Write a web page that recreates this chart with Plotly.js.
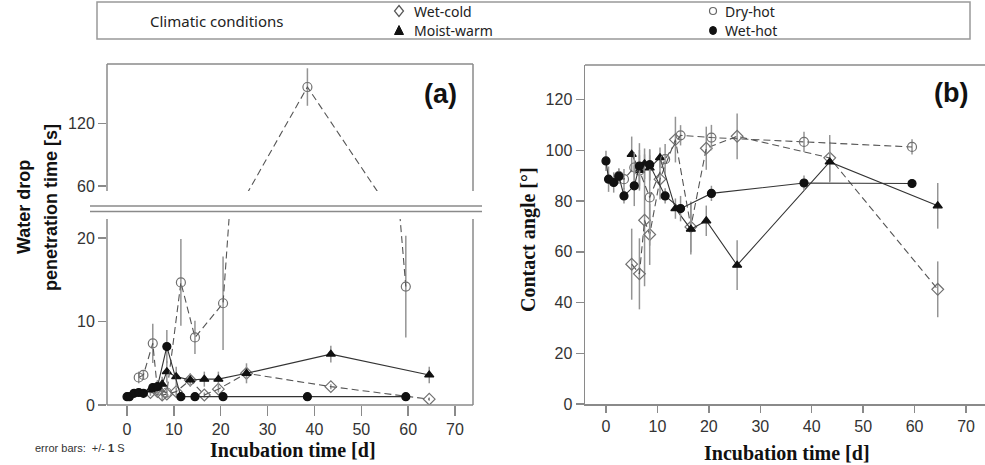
<!DOCTYPE html>
<html><head><meta charset="utf-8">
<script src="https://cdn.plot.ly/plotly-3.0.1.min.js"></script>
<style>html,body{margin:0;padding:0;background:#fff}#chart{width:985px;height:465px}</style>
</head><body><div id="chart"></div>
<script>
// ---- data ----
const conditions = ['Wet-cold', 'Moist-warm', 'Dry-hot', 'Wet-hot'];
const daysWetHot = [0, 0.5, 1.5, 2.5, 3.5, 5.5, 6.5, 8.5, 11.5, 14.5, 20.5, 38.5, 59.5];
const daysDryHot = [2.5, 3.5, 5.5, 6.5, 8.5, 11.5, 14.5, 20.5, 38.5, 59.5];
const daysCold = [5, 6.5, 7.5, 8.5, 10.5, 13.5, 16.5, 19.5, 25.5, 43.5, 64.5];

// (a) water drop penetration time [s]
const wdptWetCold = [1.5, 1.6, 1.2, 1.3, 1.6, 3.0, 1.2, 1.9, 3.8, 2.2, 0.7];
const wdptWetColdSD = [0.4, 0.5, 0.6, 0.4, 0.5, 0.4, 0.3, 0.4, 0.5, 0.3, 0.2];
const wdptMoistWarm = [1.8, 2.2, 2.5, 4.0, 3.4, 3.0, 3.1, 3.1, 3.8, 6.1, 3.6];
const wdptMoistWarmSD = [0.5, 0.8, 0.9, 1.3, 1.2, 0.8, 0.9, 0.9, 1.2, 1.0, 1.0];
const wdptDryHot = [3.3, 3.6, 7.4, 1.8, 1.5, 14.7, 8.1, 12.2, 155, 14.2];
const wdptDryHotSD = [0.7, 0.5, 2.35, 0.8, 0.6, 5.2, 2.0, 5.6, 18, 6.1];
const wdptWetHot = [1.0, 1.0, 1.4, 1.5, 1.4, 2.1, 2.2, 7.0, 1.0, 1.0, 1.0, 1.0, 1.0];
const wdptWetHotSD = [0.1, 0.1, 0.2, 0.2, 0.2, 0.5, 0.6, 2.0, 0.1, 0.1, 0.1, 0.1, 0.1];

// (b) contact angle [deg]
const caWetCold = [55.1, 51.3, 72.4, 66.8, 88.6, 104.2, 69.8, 100.8, 105.5, 97.0, 45.2];
const caWetColdSD = [14, 14, 26, 12, 8, 9, 10, 8.5, 9, 9, 11];
const caMoistWarm = [98.4, 92.1, 94.7, 93.0, 97.1, 77.0, 68.9, 72.2, 54.7, 95.4, 78.1];
const caMoistWarmSD = [7, 8, 6, 5, 4, 4, 10, 6, 9.8, 8, 9];
const caDryHot = [89.8, 88.6, 93.2, 92.0, 81.4, 96.5, 105.9, 105.0, 103.3, 101.3];
const caDryHotSD = [3, 4, 6, 6, 19, 6, 4, 5, 4, 3];
const caWetHot = [95.8, 88.6, 87.3, 89.8, 82.0, 86.0, 93.8, 94.3, 82.0, 77.0, 83.0, 87.1, 86.9];
const caWetHotSD = [4, 5, 4, 3, 3, 8, 9, 6, 3, 5, 3, 3, 0.5];

const xTicks = [0, 10, 20, 30, 40, 50, 60, 70];
const yTicksLow = [0, 10, 20];
const yTicksHigh = [60, 120];
const yTicksCA = [0, 20, 40, 60, 80, 100, 120];

// ---- styling ----
const W = 985, H = 465;
const px = v => v / W, py = v => 1 - v / H;
const AX = '#8a8a8a';
const style = {
  'Wet-cold':   {symbol: 'diamond-open', mcolor: '#707070', size: 9, lcolor: '#555', dash: '7px,4px'},
  'Moist-warm': {symbol: 'triangle-up',  mcolor: '#111',    size: 8, lcolor: '#333', dash: 'solid'},
  'Dry-hot':    {symbol: 'circle-open',  mcolor: '#707070', size: 9, lcolor: '#555', dash: '7px,4px'},
  'Wet-hot':    {symbol: 'circle',       mcolor: '#111',    size: 8, lcolor: '#333', dash: 'solid'}
};
function tr(name, x, y, sd, xa, ya) {
  const s = style[name];
  return {
    type: 'scatter', mode: 'lines+markers', name: name, x: x, y: y,
    xaxis: xa, yaxis: ya, showlegend: false, cliponaxis: true,
    line: {color: s.lcolor, width: 1.1, dash: s.dash},
    marker: {symbol: s.symbol, color: s.mcolor, size: s.size, line: {color: s.mcolor, width: 1.2}},
    error_y: {type: 'data', array: sd, visible: true, color: '#949494', thickness: 1.5, width: 0}
  };
}
const data = [
  tr('Wet-cold', daysCold, wdptWetCold, wdptWetColdSD, 'x', 'y'),
  tr('Moist-warm', daysCold, wdptMoistWarm, wdptMoistWarmSD, 'x', 'y'),
  tr('Dry-hot', daysDryHot, wdptDryHot, wdptDryHotSD, 'x', 'y'),
  tr('Wet-hot', daysWetHot, wdptWetHot, wdptWetHotSD, 'x', 'y'),
  tr('Dry-hot', daysDryHot, wdptDryHot, wdptDryHotSD, 'x2', 'y2'),
  tr('Wet-cold', daysCold, caWetCold, caWetColdSD, 'x3', 'y3'),
  tr('Moist-warm', daysCold, caMoistWarm, caMoistWarmSD, 'x3', 'y3'),
  tr('Dry-hot', daysDryHot, caDryHot, caDryHotSD, 'x3', 'y3'),
  tr('Wet-hot', daysWetHot, caWetHot, caWetHotSD, 'x3', 'y3')
];

const tickFont = {family: 'Liberation Sans, Arial, sans-serif', size: 16, color: '#333'};
const baseAx = {showgrid: false, zeroline: false, ticks: 'outside', tickcolor: AX, tickwidth: 1.5, tickfont: tickFont, fixedrange: true};

const aDom = [px(107), px(473)];
const aRange = [-4.27, 73.84];

function line(x0, y0, x1, y1) {
  return {type: 'line', xref: 'paper', yref: 'paper', x0: px(x0), y0: py(y0), x1: px(x1), y1: py(y1), line: {color: AX, width: 1.5}};
}
const shapes = [
  // panel (a) lower frame
  line(107, 219, 107, 405), line(473, 219, 473, 405), line(107, 405, 473, 405),
  // panel (a) upper frame
  line(107, 64, 107, 191), line(473, 64, 473, 191), line(107, 64, 473, 64),
  // axis break
  line(90, 206, 482, 206), line(90, 211.5, 482, 211.5),
  // panel (b) top
  line(585, 65, 985, 65),
  // legend box
  {type: 'rect', xref: 'paper', yref: 'paper', x0: px(97), y0: py(2), x1: px(970), y1: py(39), line: {color: '#999', width: 1.5}},
  // legend keys
  {type: 'path', xref: 'paper', yref: 'paper', path: `M ${px(399)},${py(5.5)} L ${px(403.5)},${py(11)} L ${px(399)},${py(16.5)} L ${px(394.5)},${py(11)} Z`, line: {color: '#555', width: 1.2}},
  {type: 'path', xref: 'paper', yref: 'paper', path: `M ${px(399)},${py(25.5)} L ${px(403.5)},${py(34.5)} L ${px(394.5)},${py(34.5)} Z`, fillcolor: '#111', line: {color: '#111', width: 1}},
  {type: 'circle', xref: 'paper', yref: 'paper', x0: px(709.5), x1: px(716.5), y0: py(14.5), y1: py(7.5), line: {color: '#666', width: 1.2}},
  {type: 'circle', xref: 'paper', yref: 'paper', x0: px(709.5), x1: px(716.5), y0: py(34.5), y1: py(26.5), fillcolor: '#111', line: {color: '#111', width: 1}}
];

function txt(text, x, y, opts) {
  return Object.assign({text: text, xref: 'paper', yref: 'paper', x: px(x), y: py(y), showarrow: false, xanchor: 'center', yanchor: 'middle'}, opts);
}
const legFont = {family: 'Noto Sans, sans-serif', size: 14, color: '#222'};
const serifB = {family: 'Liberation Serif, Times New Roman, serif', size: 20, color: '#111'};
const sansB = {family: 'Liberation Sans, Arial, sans-serif', size: 18, color: '#111'};
const annotations = [
  txt('Climatic conditions', 148, 21, {xanchor: 'left', font: {family: 'Noto Sans, sans-serif', size: 15, color: '#222'}}),
  txt(conditions[0], 412, 11, {xanchor: 'left', font: legFont}),
  txt(conditions[1], 412, 30.5, {xanchor: 'left', font: legFont}),
  txt(conditions[2], 723, 11, {xanchor: 'left', font: legFont}),
  txt(conditions[3], 723, 30.5, {xanchor: 'left', font: legFont}),
  txt('<b>(a)</b>', 440, 94, {font: {family: 'Liberation Sans, Arial, sans-serif', size: 27, color: '#111'}}),
  txt('<b>(b)</b>', 951, 93, {font: {family: 'Liberation Sans, Arial, sans-serif', size: 27, color: '#111'}}),
  txt('<b>Water drop</b>', 24, 207, {textangle: -90, font: sansB}),
  txt('<b>penetration time [s]</b>', 51, 208, {textangle: -90, font: sansB}),
  txt('<b>Contact angle [°]</b>', 528, 240, {textangle: -90, font: serifB}),
  txt('<b>Incubation time [d]</b>', 293, 450, {font: serifB}),
  txt('<b>Incubation time [d]</b>', 787, 453, {font: serifB}),
  txt('error bars:  +/- <b>1</b> S', 33, 448, {xanchor: 'left', font: {family: 'Liberation Sans, Arial, sans-serif', size: 11, color: '#333'}})
];

const layout = {
  width: W, height: H, margin: {l: 0, r: 0, t: 0, b: 0},
  paper_bgcolor: '#fff', plot_bgcolor: 'rgba(0,0,0,0)', showlegend: false,
  xaxis: Object.assign({}, baseAx, {domain: aDom, range: aRange, anchor: 'y', tickvals: xTicks, ticklen: 10, showline: false}),
  yaxis: Object.assign({}, baseAx, {domain: [py(405), py(219)], range: [0, 22.3], anchor: 'x', tickvals: yTicksLow, ticklen: 8, showline: false}),
  xaxis2: {domain: aDom, range: aRange, anchor: 'y2', visible: false, fixedrange: true},
  yaxis2: Object.assign({}, baseAx, {domain: [py(191), py(64)], range: [55.2, 177.1], anchor: 'x2', tickvals: yTicksHigh, ticklen: 8, showline: false}),
  xaxis3: Object.assign({}, baseAx, {domain: [px(585), 1], range: [-4.08, 73.69], anchor: 'y3', tickvals: xTicks, ticklen: 7, showline: true, linecolor: AX, linewidth: 1.5}),
  yaxis3: Object.assign({}, baseAx, {domain: [py(404), py(65)], range: [0, 133.6], anchor: 'x3', tickvals: yTicksCA, ticklen: 8, showline: true, linecolor: AX, linewidth: 1.5}),
  shapes: shapes,
  annotations: annotations
};
Plotly.newPlot('chart', data, layout, {staticPlot: true, displayModeBar: false});
</script></body></html>
